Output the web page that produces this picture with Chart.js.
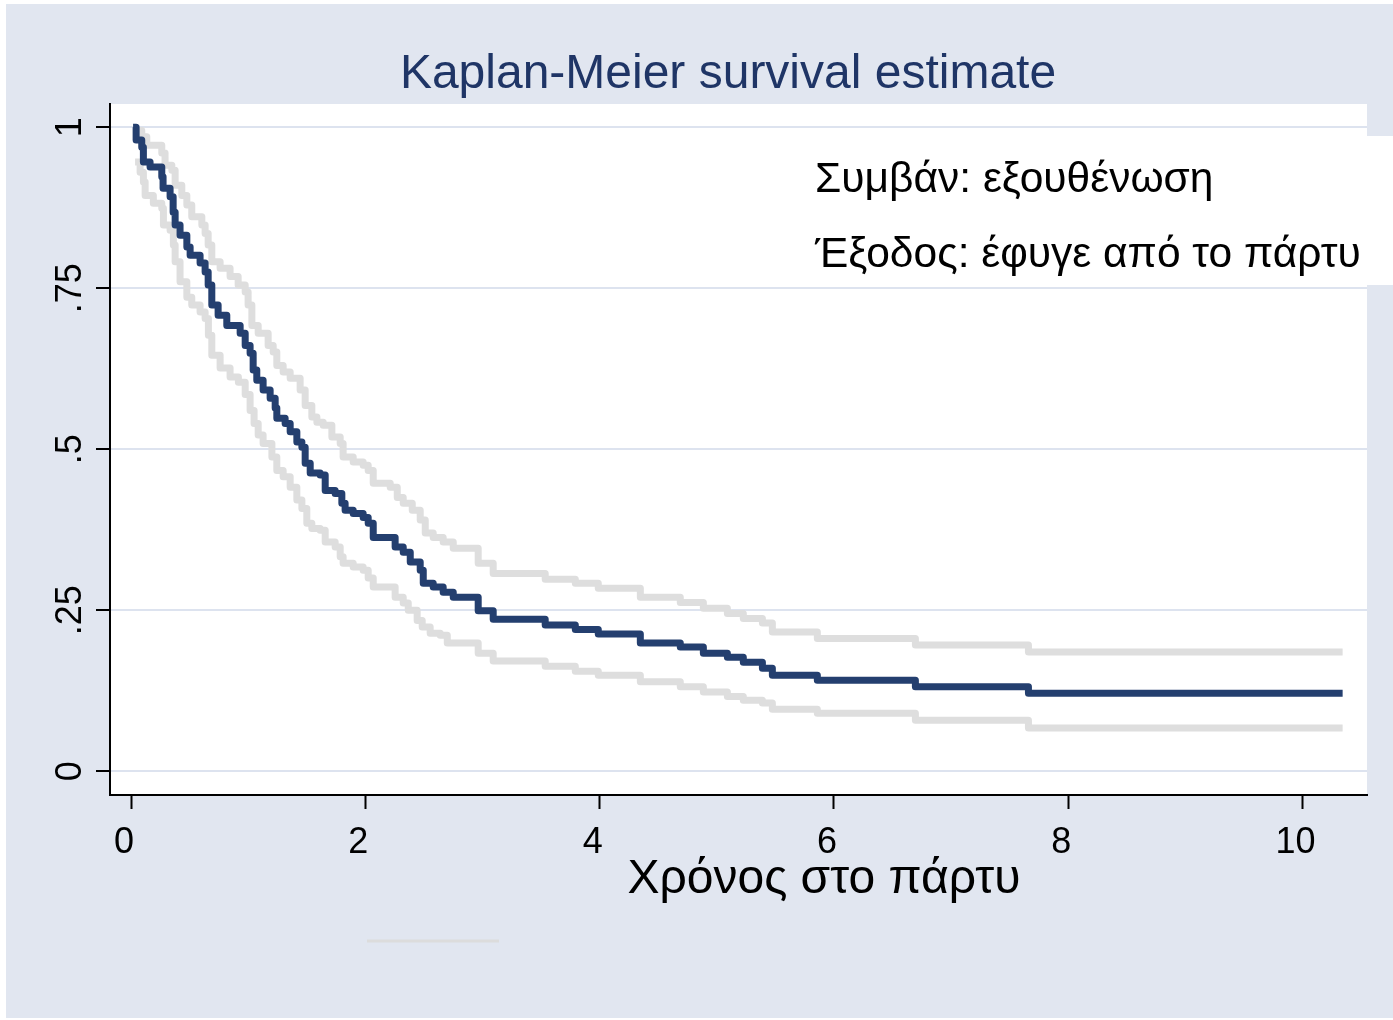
<!DOCTYPE html>
<html>
<head>
<meta charset="utf-8">
<script src="https://cdn.jsdelivr.net/npm/chart.js@4.4.0/dist/chart.umd.min.js"></script>
<style>
  html, body { margin: 0; padding: 0; background: #fff; }
  #wrap { width: 1393px; height: 1020px; }
</style>
</head>
<body>
<div id="wrap"><canvas id="km"></canvas></div>
<script>
// Kaplan-Meier estimate (time in years at party, survival)
const kmTime = [0.017, 0.043, 0.091, 0.105, 0.162, 0.262, 0.273, 0.333, 0.359, 0.376,
  0.418, 0.476, 0.504, 0.589, 0.632, 0.658, 0.689, 0.743, 0.817, 0.931,
  0.974, 1.016, 1.042, 1.073, 1.127, 1.187, 1.230, 1.244, 1.315, 1.358,
  1.415, 1.458, 1.486, 1.529, 1.614, 1.657, 1.742, 1.799, 1.827, 1.896,
  1.981, 2.024, 2.067, 2.254, 2.323, 2.383, 2.468, 2.494, 2.579, 2.664,
  2.750, 2.963, 3.091, 3.535, 3.792, 3.988, 4.347, 4.688, 4.885, 5.090,
  5.226, 5.389, 5.474, 5.858, 6.695, 7.660, 10.342];
const kmSurv = [1.000, 0.980, 0.969, 0.946, 0.938, 0.923, 0.905, 0.892, 0.868, 0.848,
  0.832, 0.814, 0.801, 0.789, 0.775, 0.755, 0.724, 0.708, 0.692, 0.680,
  0.661, 0.649, 0.623, 0.607, 0.592, 0.579, 0.564, 0.548, 0.540, 0.527,
  0.511, 0.503, 0.478, 0.463, 0.460, 0.436, 0.431, 0.416, 0.405, 0.400,
  0.394, 0.385, 0.363, 0.348, 0.340, 0.325, 0.312, 0.292, 0.286, 0.278,
  0.270, 0.249, 0.236, 0.227, 0.220, 0.213, 0.199, 0.193, 0.183, 0.177,
  0.169, 0.160, 0.149, 0.141, 0.131, 0.121, 0.121];

// upper 95% bound
const upperTime = [0.043, 0.091, 0.134, 0.262, 0.290, 0.348, 0.376, 0.433, 0.476, 0.518,
  0.604, 0.632, 0.658, 0.689, 0.760, 0.845, 0.914, 0.974, 0.999, 1.031,
  1.085, 1.170, 1.213, 1.244, 1.298, 1.358, 1.443, 1.486, 1.543, 1.586,
  1.640, 1.714, 1.785, 1.810, 1.896, 1.981, 2.024, 2.067, 2.212, 2.272,
  2.323, 2.400, 2.468, 2.511, 2.579, 2.664, 2.750, 2.963, 3.091, 3.535,
  3.792, 3.988, 4.347, 4.688, 4.885, 5.090, 5.226, 5.389, 5.474, 5.858,
  6.695, 7.660, 10.342];
const upperVal = [0.995, 0.985, 0.972, 0.960, 0.941, 0.933, 0.910, 0.894, 0.879, 0.861,
  0.848, 0.835, 0.817, 0.791, 0.781, 0.768, 0.755, 0.744, 0.724, 0.692,
  0.680, 0.661, 0.651, 0.630, 0.620, 0.610, 0.592, 0.568, 0.550, 0.542,
  0.537, 0.519, 0.509, 0.488, 0.480, 0.475, 0.467, 0.447, 0.441, 0.425,
  0.416, 0.405, 0.390, 0.370, 0.363, 0.356, 0.346, 0.323, 0.307, 0.298,
  0.292, 0.284, 0.270, 0.262, 0.253, 0.245, 0.237, 0.230, 0.216, 0.206,
  0.196, 0.185, 0.185];

// lower 95% bound
const lowerTime = [0.034, 0.077, 0.105, 0.120, 0.190, 0.262, 0.276, 0.333, 0.361, 0.376,
  0.418, 0.476, 0.518, 0.589, 0.632, 0.660, 0.689, 0.760, 0.845, 0.916,
  0.974, 1.016, 1.050, 1.085, 1.127, 1.202, 1.244, 1.298, 1.358, 1.415,
  1.458, 1.500, 1.543, 1.614, 1.657, 1.742, 1.785, 1.810, 1.896, 1.981,
  2.024, 2.067, 2.254, 2.323, 2.366, 2.442, 2.485, 2.553, 2.639, 2.699,
  2.963, 3.091, 3.535, 3.792, 3.988, 4.347, 4.688, 4.885, 5.090, 5.226,
  5.389, 5.474, 5.858, 6.695, 7.660, 10.342];
const lowerVal = [0.946, 0.930, 0.915, 0.894, 0.882, 0.874, 0.848, 0.840, 0.817, 0.791,
  0.760, 0.736, 0.724, 0.713, 0.703, 0.677, 0.646, 0.626, 0.612, 0.604,
  0.585, 0.560, 0.540, 0.522, 0.509, 0.488, 0.467, 0.457, 0.441, 0.421,
  0.408, 0.385, 0.377, 0.374, 0.356, 0.348, 0.333, 0.323, 0.317, 0.312,
  0.300, 0.286, 0.270, 0.261, 0.250, 0.234, 0.224, 0.214, 0.211, 0.199,
  0.183, 0.171, 0.163, 0.155, 0.149, 0.139, 0.131, 0.123, 0.116, 0.110,
  0.106, 0.096, 0.090, 0.079, 0.067, 0.067];

const xTicks = [0, 2, 4, 6, 8, 10];
const yTicks = [0, 0.25, 0.5, 0.75, 1];
const yTickLabels = ['0', '.25', '.5', '.75', '1'];

const titleText = 'Kaplan-Meier survival estimate';
const xTitle = 'Χρόνος στο πάρτυ';
const noteLines = ['Συμβάν: εξουθένωση', 'Έξοδος: έφυγε από το πάρτυ'];

const BG = '#e1e6f0';
const NAVY = '#243f6f';
const CI_GREY = '#dedede';
const FONT = '"Liberation Sans", Arial, sans-serif';

function pairs(xs, ys) {
  return xs.map((x, i) => ({ x, y: ys[i] }));
}

const backdrop = {
  id: 'backdrop',
  beforeDraw(chart) {
    const { ctx, chartArea: a, width, height } = chart;
    ctx.save();
    ctx.fillStyle = '#ffffff';
    ctx.fillRect(0, 0, width, height);
    ctx.fillStyle = BG;
    ctx.fillRect(6, 4, width - 6, height - 6);
    ctx.fillStyle = '#ffffff';
    ctx.fillRect(a.left, a.top, a.right - a.left, a.bottom - a.top);
    // note box pokes out past the plot region
    ctx.fillRect(800, 136, width - 800, 149);
    ctx.restore();
  },
  afterDraw(chart) {
    const { ctx } = chart;
    ctx.save();
    ctx.textBaseline = 'alphabetic';

    ctx.fillStyle = '#1f3566';
    ctx.font = '48px ' + FONT;
    ctx.textAlign = 'center';
    ctx.fillText(titleText, 728, 88);

    ctx.fillStyle = '#000000';
    ctx.font = '48px ' + FONT;
    ctx.fillText(xTitle, 824, 893);

    ctx.font = '42.5px ' + FONT;
    ctx.textAlign = 'left';
    ctx.fillText(noteLines[0], 815, 192);
    ctx.fillText(noteLines[1], 815, 267);

    // empty legend key
    ctx.strokeStyle = '#dcdcdc';
    ctx.lineWidth = 3;
    ctx.beginPath();
    ctx.moveTo(367, 941);
    ctx.lineTo(499, 941);
    ctx.stroke();
    ctx.restore();
  }
};

const lineStyle = {
  stepped: true,
  pointRadius: 0,
  borderWidth: 7,
  borderJoinStyle: 'round',
  fill: false
};

new Chart(document.getElementById('km'), {
  type: 'line',
  data: {
    datasets: [
      { ...lineStyle, label: 'Survivor function', data: pairs(kmTime, kmSurv), borderColor: NAVY, order: 0 },
      { ...lineStyle, label: 'Upper bound', data: pairs(upperTime, upperVal), borderColor: CI_GREY, order: 1 },
      { ...lineStyle, label: 'Lower bound', data: pairs(lowerTime, lowerVal), borderColor: CI_GREY, order: 1 }
    ]
  },
  options: {
    responsive: true,
    maintainAspectRatio: false,
    animation: false,
    devicePixelRatio: 1,
    layout: { padding: { left: 0, right: 26, top: 104, bottom: 0 } },
    plugins: {
      legend: { display: false },
      tooltip: { enabled: false },
      title: { display: false }
    },
    scales: {
      x: {
        type: 'linear',
        min: -0.18,
        max: 10.55,
        afterBuildTicks: (scale) => { scale.ticks = xTicks.map((v) => ({ value: v })); },
        afterFit: (scale) => { scale.height = 225; },
        border: { color: '#000000', width: 2 },
        grid: { drawOnChartArea: false, drawTicks: true, tickLength: 14, tickColor: '#000000', tickWidth: 2 },
        ticks: { color: '#000000', font: { family: FONT, size: 36 }, padding: 12, maxRotation: 0, labelOffset: -7 }
      },
      y: {
        min: -0.037,
        max: 1.036,
        afterBuildTicks: (scale) => { scale.ticks = yTicks.map((v) => ({ value: v })); },
        afterFit: (scale) => { scale.width = 110; },
        border: { color: '#000000', width: 2 },
        grid: { color: '#dde3ef', lineWidth: 2, drawTicks: true, tickLength: 14, tickColor: '#000000', tickWidth: 2 },
        ticks: {
          color: '#000000',
          font: { family: FONT, size: 36 },
          padding: 0,
          minRotation: 90,
          maxRotation: 90,
          crossAlign: 'center',
          callback: (v) => yTickLabels[yTicks.indexOf(v)] ?? ''
        }
      }
    }
  },
  plugins: [backdrop]
});
</script>
</body>
</html>
